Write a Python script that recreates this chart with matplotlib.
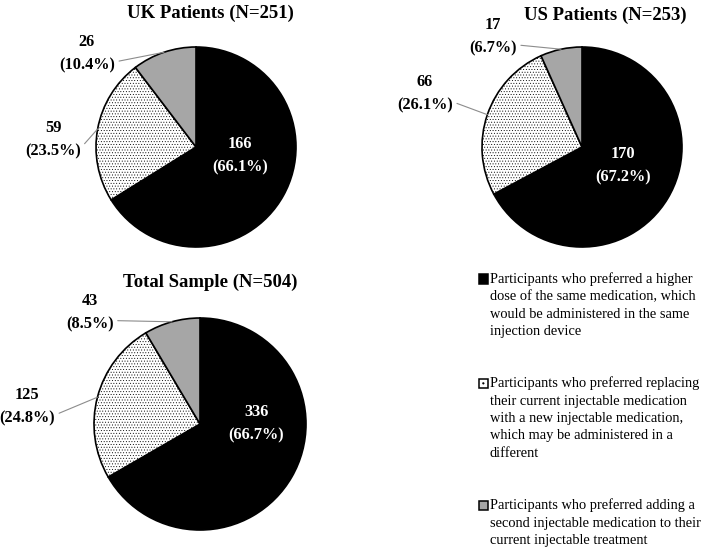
import matplotlib
matplotlib.use('Agg')
import matplotlib.pyplot as plt
from matplotlib.patches import Rectangle
import numpy as np

plt.rcParams['font.family'] = ['Liberation Serif', 'DejaVu Serif']
plt.rcParams['hatch.linewidth'] = 0.35

# data
titles = ['UK Patients (N=251)', 'US Patients (N=253)', 'Total Sample (N=504)']
uk_counts = [166, 59, 26]
us_counts = [170, 66, 17]
total_counts = [336, 125, 43]
uk_pct = [66.1, 23.5, 10.4]
us_pct = [67.2, 26.1, 6.7]
total_pct = [66.7, 24.8, 8.5]
legend_labels = [
    "Participants who preferred a higher\ndose of the same medication, which\nwould be administered in the same\ninjection device",
    "Participants who preferred replacing\ntheir current injectable medication\nwith a new injectable medication,\nwhich may be administered in a\ndifferent",
    "Participants who preferred adding a\nsecond injectable medication to their\ncurrent injectable treatment",
]

face_colors = ['#000000', '#ffffff', '#a6a6a6']
hatches = [None, '......', None]

W, H = 709, 548
fig = plt.figure(figsize=(W / 100, H / 100), dpi=100)


def add_pie(center, r, counts, pct, title, title_xy, label_pos):
    """ center, r, title_xy in pixels; label_pos in radius units """
    cx, cy = center
    ax = fig.add_axes([(cx - r) / W, 1 - (cy + r) / H, 2 * r / W, 2 * r / H])
    wedges, _ = ax.pie(counts, colors=face_colors, startangle=90, counterclock=False,
                       radius=1, wedgeprops=dict(edgecolor='black', linewidth=1.2))
    for w, h in zip(wedges, hatches):
        if h:
            w.set_hatch(h)
    ax.set_xlim(-1, 1)
    ax.set_ylim(-1, 1)
    ax.axis('off')

    for i, w in enumerate(wedges):
        txt = f'{counts[i]}\n({pct[i]:.1f}%)'
        if i == 0:
            ax.text(*label_pos[0], txt, color='white', ha='center', va='center',
                    fontsize=11.8, fontweight='bold', linespacing=1.62)
        else:
            ang = np.deg2rad((w.theta1 + w.theta2) / 2)
            ax.annotate(txt, xy=(np.cos(ang), np.sin(ang)), xytext=label_pos[i],
                        ha='center', va='center', fontsize=11.8, fontweight='bold',
                        linespacing=1.62,
                        arrowprops=dict(arrowstyle='-', color='#8c8c8c', lw=0.8,
                                        shrinkA=1, shrinkB=0, relpos=(1, 0.3)))

    fig.text(title_xy[0] / W, 1 - title_xy[1] / H, title, ha='center', va='center',
             fontsize=13.5, fontweight='bold')


add_pie((196, 147), 100, uk_counts, uk_pct, titles[0], (210, 13),
        [(0.44, -0.09), (-1.43, 0.07), (-1.09, 0.93)])
add_pie((582, 147), 100, us_counts, us_pct, titles[1], (605, 15),
        [(0.41, -0.19), (-1.57, 0.53), (-0.89, 1.10)])
add_pie((200, 424), 106, total_counts, total_pct, titles[2], (210, 282),
        [(0.53, 0.0), (-1.63, 0.16), (-1.04, 1.05)])

# legend, drawn by hand so multi-line entries line up like the original
line_h = 17.5
first_lines = [279, 279 + 3 * line_h + 52, 279 + 7 * line_h + 104]
sq = 9.5
for i, (lab, y0) in enumerate(zip(legend_labels, first_lines)):
    fig.add_artist(Rectangle((479 / W, 1 - (y0 + sq / 2) / H), sq / W, sq / H,
                             transform=fig.transFigure, facecolor=face_colors[i],
                             edgecolor='black', linewidth=1.1,
                             hatch='..' if hatches[i] else None))
    for j, line in enumerate(lab.split('\n')):
        fig.text(490 / W, 1 - (y0 + j * line_h) / H, line, ha='left', va='center',
                 fontsize=10.4)

fig.savefig('out.png', dpi=100)
